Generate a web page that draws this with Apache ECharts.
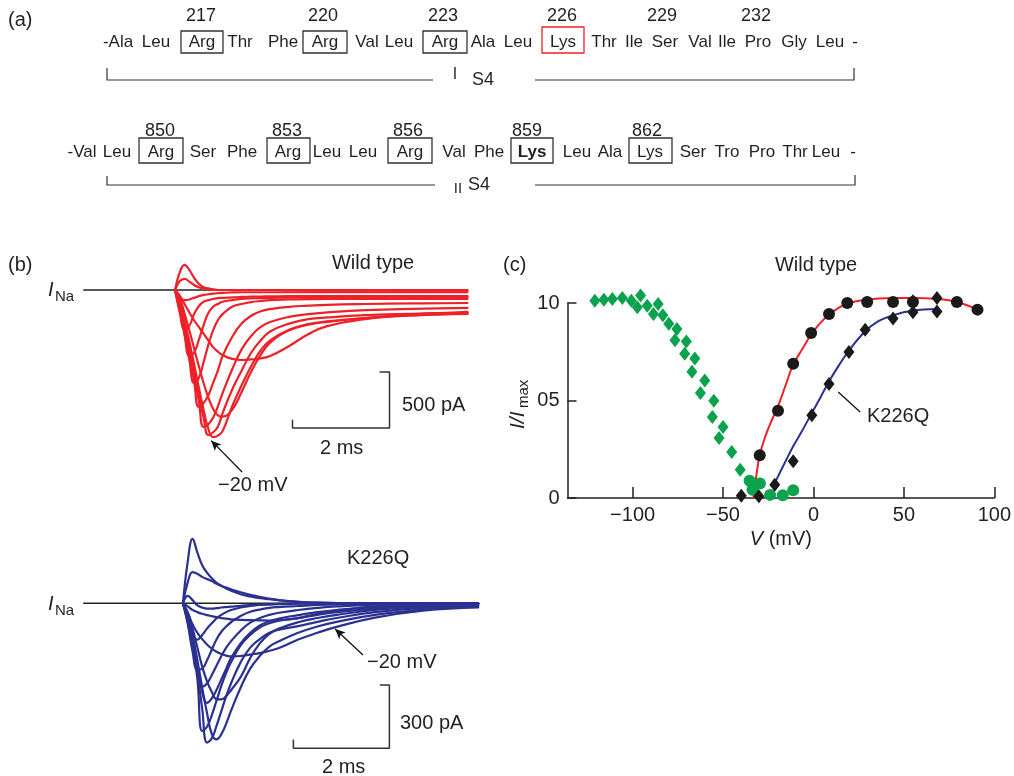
<!DOCTYPE html>
<html>
<head>
<meta charset="utf-8">
<title>S4 charges and Na current</title>
<script src="https://cdn.jsdelivr.net/npm/echarts@6.0.0/dist/echarts.min.js"></script>
<style>
html, body { margin: 0; padding: 0; background: #fff; }
#chart { width: 1014px; height: 776px; }
</style>
</head>
<body>
<div id="chart"></div>
<script>
/**
 * (a) sequences
 */
var rowIWords = ['-Ala', 'Leu', 'Arg', 'Thr', 'Phe', 'Arg', 'Val', 'Leu', 'Arg', 'Ala', 'Leu', 'Lys', 'Thr', 'Ile', 'Ser', 'Val', 'Ile', 'Pro', 'Gly', 'Leu', '-'];
var rowINumbers = ['217', '220', '223', '226', '229', '232'];
var rowIIWords = ['-Val', 'Leu', 'Arg', 'Ser', 'Phe', 'Arg', 'Leu', 'Leu', 'Arg', 'Val', 'Phe', 'Lys', 'Leu', 'Ala', 'Lys', 'Ser', 'Tro', 'Pro', 'Thr', 'Leu', '-'];
var rowIINumbers = ['850', '853', '856', '859', '862'];

/**
 * (b) current traces, time in ms, current in pA
 */
var traceTime = [0, 0.1, 0.2, 0.3, 0.4, 0.5, 0.6, 0.7, 0.8, 0.9, 1.0, 1.2, 1.4, 1.6, 1.8, 2.0, 2.4, 2.8, 3.2, 4.0, 5.0, 6.15];
var wtCurrents = [
	[0, 160, 225, 180, 110, 55, 25, 15, 5, 0, 0, 0, 0, 0, 0, 0, 0, 0, 0, 0, 0, 0],
	[0, 80, 100, 75, 45, 25, 12, 5, 2, 0, 0, 0, 0, 0, 0, 0, -3, -5, -5, -5, -5, -5],
	[0, -60, -90, -85, -70, -55, -45, -38, -32, -28, -25, -22, -20, -20, -20, -20, -20, -20, -20, -20, -20, -20],
	[0, -200, -350, -320, -215, -145, -105, -90, -80, -72, -70, -65, -62, -60, -58, -57, -55, -55, -55, -55, -55, -55],
	[0, -190, -400, -585, -560, -445, -315, -205, -150, -125, -105, -90, -80, -75, -72, -70, -68, -66, -65, -63, -62, -62],
	[0, -170, -390, -620, -830, -785, -645, -490, -360, -270, -215, -150, -125, -108, -98, -90, -85, -82, -80, -80, -80, -80],
	[0, -150, -360, -580, -810, -1045, -1010, -940, -830, -720, -590, -420, -300, -230, -190, -170, -150, -140, -132, -125, -120, -116],
	[0, -130, -330, -540, -760, -990, -1223, -1200, -1140, -1040, -920, -710, -530, -410, -330, -285, -240, -215, -200, -180, -168, -160],
	[0, -110, -300, -500, -710, -930, -1140, -1295, -1270, -1220, -1100, -890, -720, -560, -450, -370, -300, -260, -245, -225, -212, -205],
	[0, -90, -270, -460, -660, -870, -1070, -1240, -1313, -1300, -1260, -1040, -850, -680, -540, -450, -355, -305, -280, -250, -228, -214],
	[0, -70, -210, -360, -520, -680, -830, -960, -1060, -1120, -1130, -1070, -910, -730, -580, -470, -360, -310, -285, -250, -220, -196],
	[0, -50, -125, -200, -270, -330, -390, -450, -510, -550, -580, -615, -625, -620, -610, -590, -500, -395, -322, -260, -220, -205]
];
var kqCurrents = [
	[0, 200, 305, 240, 180, 145, 118, 97, 83, 70, 60, 43, 32, 24, 19, 14, 7, 3, 1, 0, 0, 0],
	[0, 100, 148, 140, 125, 115, 105, 92, 82, 74, 66, 52, 40, 30, 22, 15, 7, 3, 1, 0, 0, 0],
	[0, 35, 15, -10, -20, -25, -25, -23, -20, -18, -16, -12, -9, -7, -5, -4, -2, -1, 0, 0, 0, 0],
	[0, -15, -32, -42, -50, -56, -61, -66, -70, -73, -76, -79, -80, -81, -82, -80, -70, -50, -35, -15, -5, -2],
	[0, -80, -150, -172, -150, -120, -95, -71, -55, -42, -32, -20, -13, -8, -5, -3, -1, 0, 0, 0, 0, 0],
	[0, -100, -230, -315, -310, -270, -220, -170, -135, -110, -90, -60, -40, -30, -22, -18, -13, -8, -5, -2, 0, 0],
	[0, -90, -210, -320, -395, -380, -340, -295, -250, -210, -180, -130, -92, -70, -55, -45, -32, -22, -15, -7, -3, -1],
	[0, -80, -190, -300, -420, -472, -450, -410, -360, -310, -260, -190, -140, -105, -85, -72, -56, -42, -32, -18, -8, -3],
	[0, -80, -200, -360, -605, -585, -530, -460, -390, -330, -280, -200, -150, -115, -95, -82, -70, -55, -42, -25, -12, -5],
	[0, -70, -180, -330, -500, -660, -640, -580, -510, -440, -380, -280, -210, -170, -140, -125, -108, -88, -70, -42, -22, -10],
	[0, -60, -150, -270, -400, -520, -620, -645, -620, -570, -510, -400, -310, -250, -205, -180, -140, -110, -88, -55, -30, -14],
	[0, -45, -120, -210, -300, -370, -420, -455, -455, -440, -412, -350, -260, -190, -145, -120, -90, -70, -55, -32, -15, -7],
	[0, -45, -100, -140, -170, -195, -215, -230, -240, -248, -252, -250, -243, -236, -225, -212, -172, -140, -112, -68, -35, -20]
];
var wtBaselineTime = [-1.93, 6.15];
var kqBaselineTime = [-2.08, 6.15];
//scale bars: 2 ms / 500 pA and 2 ms / 300 pA
var wtBarTime = [2.47, 2.47, 4.51, 4.51, 4.30];
var wtBarCurrent = [-1158, -1232, -1232, -732, -732];
var kqBarTime = [2.30, 2.30, 4.30, 4.30, 4.10];
var kqBarCurrent = [-645, -687, -687, -387, -387];

/**
 * (c) normalised current vs voltage
 */
var wtActV = [-29.7, -19.6, -11.2, -1.3, 8.6, 18.7, 29.7, 44.0, 55.0, 79.3, 90.7];
var wtActI = [0.219, 0.448, 0.689, 0.846, 0.944, 1.0, 1.005, 1.005, 1.005, 1.005, 0.966];
var kqActV = [-39.9, -30.2, -21.4, -11.2, -0.9, 8.6, 19.6, 28.6, 44.0, 55.0, 55.0, 68.3, 68.3];
var kqActI = [0.012, 0.009, 0.068, 0.188, 0.424, 0.585, 0.749, 0.863, 0.920, 0.952, 1.009, 1.026, 0.957];
var inactV = [-120.9, -115.9, -111.2, -105.7, -100.7, -97.4, -95.6, -91.9, -88.5, -85.9, -83.3, -80.0, -75.5, -76.6, -70.3, -71.2, -65.6, -67.2, -60.1, -62.5, -55.1, -55.9, -50.0, -52.2, -45.2, -40.5];
var inactI = [1.012, 1.017, 1.02, 1.026, 1.012, 0.978, 1.038, 0.986, 0.944, 0.995, 0.937, 0.894, 0.867, 0.809, 0.803, 0.74, 0.715, 0.648, 0.603, 0.538, 0.499, 0.415, 0.364, 0.308, 0.236, 0.145];
var greenDotV = [-35.3, -33.7, -29.6, -24.0, -17.0, -11.2];
var greenDotI = [0.088, 0.042, 0.074, 0.016, 0.014, 0.04];
var wtFitV = [-33.2, -31.5, -29.7, -26.6, -23, -19.6, -15.6, -11.2, -6.4, -1.3, 3.7, 8.6, 13.7, 18.7, 28.4, 44, 55, 68.3, 79.3, 90.7];
var wtFitI = [0.0, 0.12, 0.22, 0.316, 0.40, 0.47, 0.573, 0.684, 0.76, 0.838, 0.897, 0.94, 0.974, 0.997, 1.017, 1.026, 1.026, 1.021, 1.005, 0.966];
var kqFitV = [-21, -15.6, -11.2, -6.4, -0.9, 3.7, 8.6, 13.7, 19.6, 28.6, 35.7, 44, 55, 68.3];
var kqFitI = [0.084, 0.185, 0.265, 0.342, 0.436, 0.513, 0.598, 0.675, 0.756, 0.855, 0.906, 0.937, 0.961, 0.969];
var kqPointerV = [13.7, 25.8];
var kqPointerI = [0.544, 0.441];
var ivXTicks = [-100, -50, 0, 50, 100];
var ivYTicks = [0, 0.5, 1];
var ivYTickLabels = ['0', '05', '10'];

var FONT = '"Liberation Sans", Arial, Helvetica, sans-serif';
var INK = '#231f20';
var RED = '#ee2128';
var BLUE = '#2b3190';
var GREEN = '#0aa24c';

var _pairs = function(xs, ys) {
	var out = [];
	for(var i = 0; i < xs.length; i++) {
		out.push([xs[i], ys[i]]);
	}
	return out;
};

/**
 * text element for the graphic layer
 */
var _text = function(x, y, s, size, align, extra) {
	var st = {
		text: s,
		fontSize: size,
		fontFamily: FONT,
		fill: INK,
		textAlign: align || 'left',
		align: align || 'left',
		textVerticalAlign: 'middle',
		verticalAlign: 'middle'
	};
	if(extra) {
		for(var k in extra) st[k] = extra[k];
	}
	return { type: 'text', x: x, y: y, style: st, silent: true };
};

var _box = function(x, y, w, h, color) {
	return {
		type: 'rect',
		shape: { x: x, y: y, width: w, height: h },
		style: { fill: 'none', stroke: color || '#333', lineWidth: 1.3 },
		silent: true
	};
};

var _poly = function(points) {
	return {
		type: 'polyline',
		shape: { points: points },
		style: { fill: 'none', stroke: '#333', lineWidth: 1.2 },
		silent: true
	};
};

//layout of panel (a): word centres, boxes, brackets
var rowIX = [118, 156, 202, 240, 283, 325, 367, 399, 445, 483, 518, 563, 604, 634, 665, 700, 727, 758, 794, 830, 855];
var rowINumX = [201, 323, 443, 562, 662, 756];
var rowIBoxes = [[181, 31, 42, 22], [303, 31, 44, 22], [423, 31, 44, 22]];
var rowIIX = [82, 117, 161, 203, 242, 288, 327, 363, 410, 454, 489, 532, 577, 610, 650, 693, 727, 762, 795, 826, 853];
var rowIINumX = [160, 287, 408, 527, 647];
var rowIIBoxes = [[139, 138, 44, 25], [267, 138, 43, 25], [388, 138, 44, 25], [511, 138, 42, 25], [629, 138, 43, 25]];
var SEQ_SIZE = 17;

var _panelA = function() {
	var g = [];
	g.push(_text(8, 20, '(a)', 20));
	for(var i = 0; i < rowIWords.length; i++) {
		g.push(_text(rowIX[i], 42, rowIWords[i], SEQ_SIZE, 'center'));
	}
	for(i = 0; i < rowINumbers.length; i++) {
		g.push(_text(rowINumX[i], 16, rowINumbers[i], 18, 'center'));
	}
	for(i = 0; i < rowIBoxes.length; i++) {
		var b = rowIBoxes[i];
		g.push(_box(b[0], b[1], b[2], b[3]));
	}
	g.push(_box(542, 27, 42, 26, RED));
	g.push(_poly([[107, 68], [107, 80], [433, 80]]));
	g.push(_poly([[535, 80], [854, 80], [854, 68]]));
	g.push(_text(455, 75, 'I', 16, 'center'));
	g.push(_text(472, 80, 'S4', 18));

	for(i = 0; i < rowIIWords.length; i++) {
		var ex = i === 11 ? { fontWeight: 'bold' } : null;
		g.push(_text(rowIIX[i], 152, rowIIWords[i], SEQ_SIZE, 'center', ex));
	}
	for(i = 0; i < rowIINumbers.length; i++) {
		g.push(_text(rowIINumX[i], 131, rowIINumbers[i], 18, 'center'));
	}
	for(i = 0; i < rowIIBoxes.length; i++) {
		var c = rowIIBoxes[i];
		g.push(_box(c[0], c[1], c[2], c[3]));
	}
	g.push(_poly([[107, 176], [107, 185], [435, 185]]));
	g.push(_poly([[535, 185], [855, 185], [855, 175]]));
	g.push(_text(458, 189, 'II', 15, 'center'));
	g.push(_text(468, 185, 'S4', 18));
	return g;
};

var _panelLabels = function() {
	var g = [];
	//(b)
	g.push(_text(8, 265, '(b)', 20));
	g.push(_text(373, 263, 'Wild type', 20, 'center'));
	g.push(_text(48, 290, 'I', 20, 'left', { fontStyle: 'italic' }));
	g.push(_text(55, 297, 'Na', 15));
	g.push(_text(402, 405, '500 pA', 20));
	g.push(_text(320, 448, '2 ms', 20));
	g.push(_text(218, 485, '\u221220 mV', 20));
	g.push(_text(347, 558, 'K226Q', 20));
	g.push(_text(48, 604, 'I', 20, 'left', { fontStyle: 'italic' }));
	g.push(_text(55, 611, 'Na', 15));
	g.push(_text(367, 662, '\u221220 mV', 20));
	g.push(_text(400, 723, '300 pA', 20));
	g.push(_text(322, 767, '2 ms', 20));
	//(c)
	g.push(_text(503, 265, '(c)', 20));
	g.push(_text(816, 265, 'Wild type', 20, 'center'));
	g.push(_text(867, 416, 'K226Q', 20));
	g.push({
		type: 'group',
		x: 518,
		y: 403,
		rotation: Math.PI / 2,
		children: [
			_text(-26, 0, 'I/I', 21, 'left', { fontStyle: 'italic' }),
			_text(-5, 6, 'max', 15)
		]
	});
	return g;
};

var _traceSeries = function(list, color, idx) {
	var out = [];
	for(var k = 0; k < list.length; k++) {
		out.push({
			type: 'line',
			xAxisIndex: idx,
			yAxisIndex: idx,
			data: _pairs(traceTime, list[k]),
			smooth: 0.45,
			showSymbol: false,
			silent: true,
			z: 3,
			lineStyle: { color: color, width: 2.2, join: 'round', cap: 'round' }
		});
	}
	return out;
};

var _arrow = function(from, to) {
	return {
		silent: true,
		symbol: ['none', 'arrow'],
		symbolSize: [7, 10],
		label: { show: false },
		lineStyle: { color: '#111', width: 1.3, type: 'solid' },
		data: [[{ coord: from }, { coord: to }]]
	};
};

var _plainLine = function(data, idx, color, width, z, markLine) {
	var s = {
		type: 'line',
		xAxisIndex: idx,
		yAxisIndex: idx,
		data: data,
		showSymbol: false,
		silent: true,
		z: z,
		lineStyle: { color: color, width: width }
	};
	if(markLine) s.markLine = markLine;
	return s;
};

var hidden = function(min, max, idx) {
	return { type: 'value', gridIndex: idx, min: min, max: max, show: false };
};

var series = [];
series.push(_plainLine(_pairs(wtBaselineTime, [0, 0]), 0, '#222', 1.3, 2, _arrow([1.41, -1625], [0.76, -1345])));
series = series.concat(_traceSeries(wtCurrents, RED, 0));
series.push(_plainLine(_pairs(wtBarTime, wtBarCurrent), 0, '#333', 1.5, 2));
series.push(_plainLine(_pairs(kqBaselineTime, [0, 0]), 1, '#222', 1.3, 2, _arrow([3.75, -245], [3.17, -122])));
series = series.concat(_traceSeries(kqCurrents, BLUE, 1));
series.push(_plainLine(_pairs(kqBarTime, kqBarCurrent), 1, '#333', 1.5, 2));

var scatter = function(data, symbol, size, color) {
	return {
		type: 'scatter',
		xAxisIndex: 2,
		yAxisIndex: 2,
		data: data,
		symbol: symbol,
		symbolSize: size,
		clip: false,
		silent: true,
		z: 4,
		itemStyle: { color: color, opacity: 1 }
	};
};
series.push(scatter(_pairs(inactV, inactI), 'diamond', [11, 14], GREEN));
series.push(scatter(_pairs(greenDotV, greenDotI), 'circle', 12, GREEN));
var fitRed = _plainLine(_pairs(wtFitV, wtFitI), 2, RED, 2, 3);
fitRed.smooth = 0.4;
fitRed.clip = false;
series.push(fitRed);
var fitBlue = _plainLine(_pairs(kqFitV, kqFitI), 2, BLUE, 2, 3);
fitBlue.smooth = 0.4;
fitBlue.clip = false;
series.push(fitBlue);
series.push(_plainLine(_pairs(kqPointerV, kqPointerI), 2, '#111', 1.3, 3));
series.push(scatter(_pairs(wtActV, wtActI), 'circle', 12, '#1a1a1a'));
series.push(scatter(_pairs(kqActV, kqActI), 'diamond', [11, 14], '#1a1a1a'));

var option = {
	animation: false,
	backgroundColor: '#fff',
	textStyle: { fontFamily: FONT },
	grid: [
		{ left: 82.3, top: 256.4, width: 387.6, height: 235.2 },
		{ left: 82.2, top: 529.4, width: 398.4, height: 221.6 },
		{ left: 567.5, top: 303, width: 429.5, height: 195 }
	],
	xAxis: [
		hidden(-1.95, 6.2, 0),
		hidden(-2.1, 6.2, 1),
		{
			type: 'value',
			gridIndex: 2,
			min: -136,
			max: 100,
			splitLine: { show: false },
			axisLine: { onZero: false, lineStyle: { color: '#222', width: 1.5 } },
			axisTick: { inside: true, length: 11, customValues: ivXTicks, lineStyle: { color: '#222', width: 1.5 } },
			axisLabel: {
				customValues: ivXTicks,
				margin: 7,
				fontSize: 20,
				color: INK,
				fontFamily: FONT,
				formatter: function(v) {
					return v < 0 ? '\u2212' + Math.abs(v) : String(v);
				}
			},
			name: '{i|V} (mV)',
			nameLocation: 'middle',
			nameGap: 31,
			nameTextStyle: {
				fontSize: 20,
				color: INK,
				fontFamily: FONT,
				rich: { i: { fontStyle: 'italic', fontSize: 20, color: INK, fontFamily: FONT } }
			}
		}
	],
	yAxis: [
		hidden(-1800, 300, 0),
		hidden(-700, 350, 1),
		{
			type: 'value',
			gridIndex: 2,
			min: 0,
			max: 1,
			splitLine: { show: false },
			axisLine: { show: true, onZero: false, lineStyle: { color: '#222', width: 1.5 } },
			axisTick: { show: true, inside: true, length: 9, customValues: ivYTicks, lineStyle: { color: '#222', width: 1.5 } },
			axisLabel: {
				customValues: ivYTicks,
				margin: 8,
				fontSize: 20,
				color: INK,
				fontFamily: FONT,
				formatter: function(v) {
					return ivYTickLabels[ivYTicks.indexOf(v)];
				}
			}
		}
	],
	graphic: { elements: _panelA().concat(_panelLabels()) },
	series: series
};

var chart = echarts.init(document.getElementById('chart'), null, { renderer: 'canvas' });
chart.setOption(option);
</script>
</body>
</html>
